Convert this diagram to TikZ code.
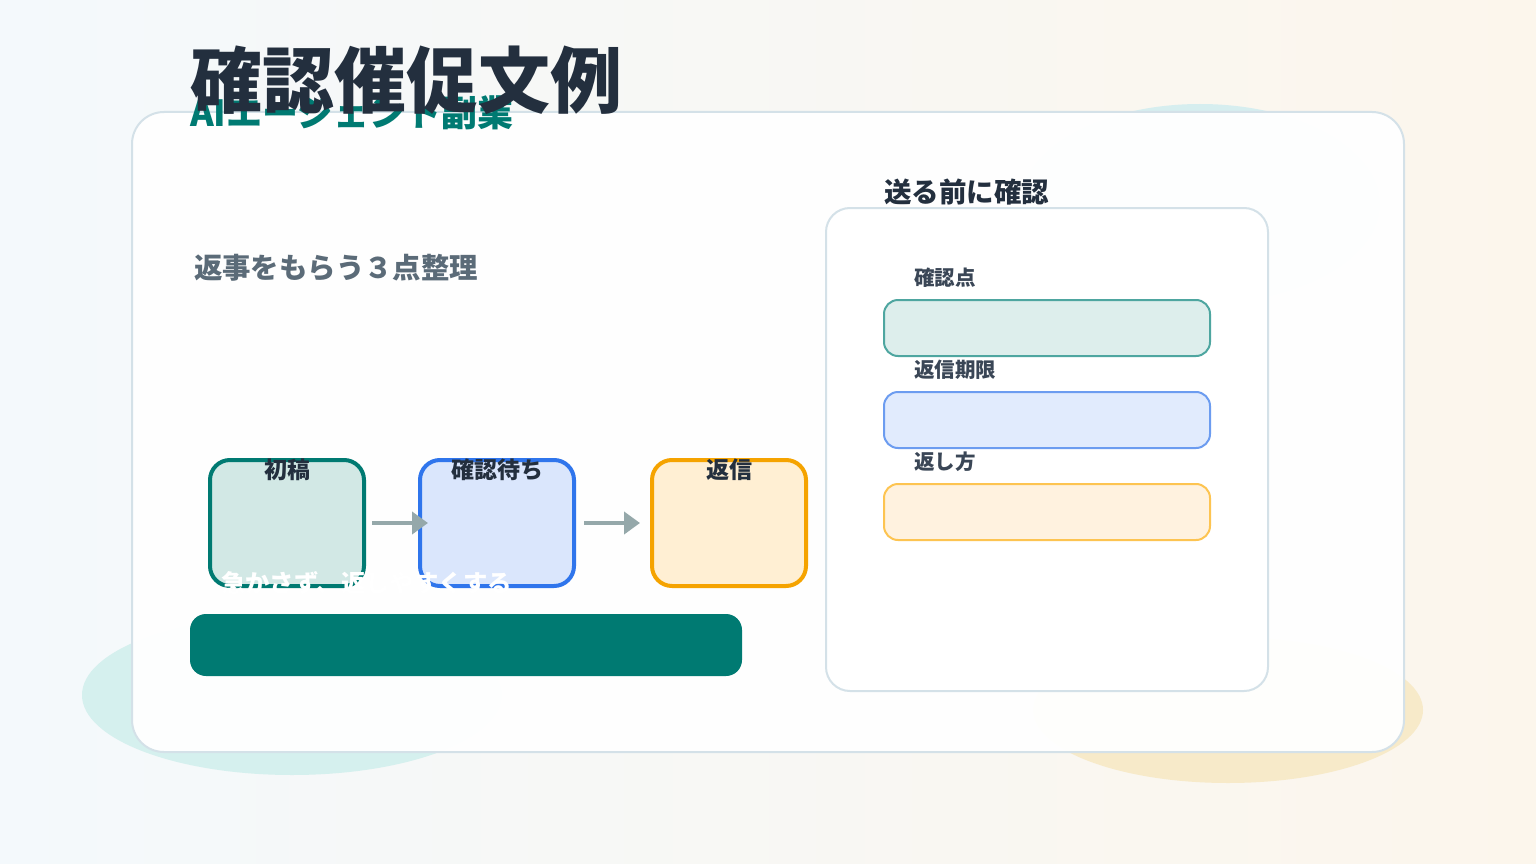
\documentclass[tikz,border=0pt]{standalone}
\usepackage{fontspec}
\setmainfont{Noto Sans CJK JP}
\usepackage{xcolor}
\usetikzlibrary{positioning,arrows.meta,shapes}

\definecolor{ink}{HTML}{232F3E}
\definecolor{teal}{HTML}{007A72}
\definecolor{muted}{HTML}{5B6B78}
\definecolor{labelink}{HTML}{3A4656}
\definecolor{edge}{HTML}{D4E1E8}
\definecolor{arrowgray}{HTML}{95A8AA}
\definecolor{greenfill}{HTML}{D2E8E5}
\definecolor{bluefill}{HTML}{DAE6FC}
\definecolor{bluedraw}{HTML}{2F75EC}
\definecolor{orangefill}{HTML}{FFEFD3}
\definecolor{orangedraw}{HTML}{F5A300}
\definecolor{lgreenfill}{HTML}{DDEEEC}
\definecolor{lgreendraw}{HTML}{4EA6A0}
\definecolor{lbluefill}{HTML}{E1EBFD}
\definecolor{lbluedraw}{HTML}{6C9CF0}
\definecolor{lorangefill}{HTML}{FFF2DF}
\definecolor{lorangedraw}{HTML}{FDC451}
\definecolor{bgleft}{HTML}{F4F9FC}
\definecolor{bgmid}{HTML}{F2F8F4}
\definecolor{bgright}{HTML}{FCF6EC}

\begin{document}
\begin{tikzpicture}
[x=1pt,y=-1pt,
outer sep=0pt,
flow node/.style={draw, rounded corners=20pt, line width=4pt,
  minimum width=154pt, minimum height=126pt, inner sep=0pt},
flow label/.style={font=\bfseries\fontsize{23}{25}\selectfont, text=ink, inner sep=0pt},
flow arrow/.style={draw=arrowgray, line width=4pt,
  -{Triangle[length=16pt,width=22pt]}},
check node/.style={draw, rounded corners=14pt, line width=2pt,
  minimum width=326pt, minimum height=56pt, inner sep=0pt},
check label/.style={font=\bfseries\fontsize{20.5}{22}\selectfont, text=labelink,
  inner sep=0pt, anchor=west}]

  \useasboundingbox (0,0) rectangle (1536,864);
  \shade[left color=bgleft, middle color=bgmid, right color=bgright] (0,0) rectangle (1536,864);

  % blobs behind the card
  \fill[color={rgb,255:red,214;green,238;blue,239}] (1200,204) ellipse [x radius=180, y radius=100];
  \fill[color={rgb,255:red,213;green,240;blue,238}] (292,695) ellipse [x radius=210, y radius=80];
  \fill[color={rgb,255:red,247;green,234;blue,201}] (1228,710) ellipse [x radius=195, y radius=73];

  % card
  \draw[draw=edge, line width=2pt, fill=white, fill opacity=0.96, rounded corners=32pt]
    (132,112) rectangle (1404,752);

  \node[font=\bfseries\fontsize{36}{40}\selectfont, text=teal, inner sep=0pt, anchor=west]
    (sub) at (190,113) {AIエージェント副業};
  \node[font=\bfseries\fontsize{72}{80}\selectfont, text=ink, inner sep=0pt, anchor=west]
    (title) at (190,80) {確認催促文例};

  \node[font=\bfseries\fontsize{28.4}{30}\selectfont, text=muted, inner sep=0pt, anchor=west]
    (lead) at (194,268) {返事をもらう３点整理};

  % flow
  \node[flow node, draw=teal, fill=greenfill] (b1) at (287,523) {};
  \node[flow node, draw=bluedraw, fill=bluefill, right=56pt of b1] (b2) {};
  \node[flow node, draw=orangedraw, fill=orangefill, right=78pt of b2] (b3) {};

  \node[flow label] (l1) at ([yshift=-10pt]b1.north) {初稿};
  \node[flow label] (l2) at ([yshift=-10pt]b2.north) {確認待ち};
  \node[flow label] (l3) at ([yshift=-10pt]b3.north) {返信};

  \path[flow arrow, shorten <=8pt, shorten >=-8pt] (b1.east) -- (b2.west);
  \path[flow arrow, shorten <=10pt, shorten >=12pt] (b2.east) -- (b3.west);

  \node[fill=teal, rounded corners=16pt, minimum width=552pt, minimum height=62pt,
    inner sep=0pt, anchor=north west] (bar) at (190,614) {};
  \node[font=\bfseries\fontsize{24.4}{26}\selectfont, text=white, inner sep=0pt, anchor=west]
    (note) at (221,583) {急かさず、返しやすくする};

  % check panel
  \node[font=\bfseries\fontsize{27.5}{29}\selectfont, text=ink, inner sep=0pt, anchor=west]
    (ptitle) at (884,192) {送る前に確認};
  \draw[draw=edge, line width=2pt, fill=white, rounded corners=24pt]
    (826,208) rectangle (1268,691);

  \node[check node, draw=lgreendraw, fill=lgreenfill] (c1) at (1047,328) {};
  \node[check node, draw=lbluedraw, fill=lbluefill, below=36pt of c1] (c2) {};
  \node[check node, draw=lorangedraw, fill=lorangefill, below=36pt of c2] (c3) {};

  \node[check label] (k1) at ([xshift=30pt,yshift=22pt]c1.north west) {確認点};
  \node[check label] (k2) at ([xshift=30pt,yshift=22pt]c2.north west) {返信期限};
  \node[check label] (k3) at ([xshift=30pt,yshift=22pt]c3.north west) {返し方};

\end{tikzpicture}
\end{document}
